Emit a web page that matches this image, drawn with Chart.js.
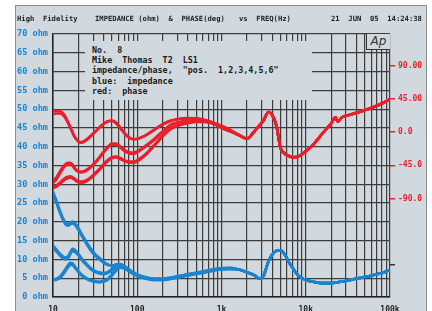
<!DOCTYPE html>
<html>
<head>
<meta charset="utf-8">
<script src="https://cdn.jsdelivr.net/npm/chart.js@4.4.1/dist/chart.umd.min.js"></script>
<style>
  body { margin: 0; background: #fff; }
  #wrap { position: relative; width: 432px; height: 311px; overflow: hidden; background: #fff; }
  #frame { position: absolute; left: 15px; top: 5px; width: 410px; height: 320px; border: 1px solid #8a8f94; background: #d2d9de; }
  #c { position: absolute; left: 0; top: 0; }
  .hdr { position: absolute; top: 15px; font: bold 7.2px/8px "DejaVu Sans Mono", monospace; color: #222; white-space: pre; }
  #note { position: absolute; left: 85px; top: 41px; width: 220px; height: 55px; padding: 4px 0 0 7px; background: #d2d9de;
          font: bold 8.4px/10.2px "DejaVu Sans Mono", monospace; color: #1a1a1a; white-space: pre; }
  #ap { position: absolute; left: 366px; top: 34px; width: 23px; height: 15px; background: #d2d9de;
        border-left: 1px solid #333; border-bottom: 1px solid #333; font: italic 12px/15px "DejaVu Sans", sans-serif; color: #333; text-align: center; }
</style>
</head>
<body>
<div id="wrap">
  <div id="frame"></div>
  <canvas id="c" width="432" height="311"></canvas>
  <div class="hdr" style="left:17px">High  Fidelity</div>
  <div class="hdr" style="left:95px">IMPEDANCE (ohm)  &  PHASE(deg)</div>
  <div class="hdr" style="left:239px">vs  FREQ(Hz)</div>
  <div class="hdr" style="left:331px">21  JUN  05  14:24:38</div>
  <div id="note">No.  8
Mike  Thomas  T2  LS1
impedance/phase,  "pos.  1,2,3,4,5,6"
blue:  impedance
red:  phase</div>
  <div id="ap">Ap</div>
</div>
<script>
// frequenze (Hz)
const freqLow = [10, 11, 12, 13, 14, 15, 16, 17, 18, 20, 22, 25, 28, 32, 36, 40, 45, 50, 56, 63, 71, 80, 90, 100,
  125, 160, 200, 250, 315, 400, 500, 630, 800, 1000, 1250];
const freqHigh = [1600, 2000, 2500, 2800, 3150, 3600, 4000, 4500, 5000, 5600, 6300, 7100, 8000, 9000, 10000,
  12500, 16000, 20000, 22500, 24000, 27000, 31500, 40000, 50000, 63000, 80000, 100000];

// impedenza (ohm), una riga per posizione, parte bassa
const zA1 = [28.0, 25.6, 23.2, 21.2, 19.9, 19.5, 19.8, 20.1, 19.8, 18.4, 16.7, 14.6, 12.9, 11.3, 10.3, 9.4, 8.7, 8.4, 8.7, 8.8, 8.2, 7.3, 6.6, 6.0,
  5.3, 4.9, 4.9, 5.2, 5.6, 6.1, 6.5, 6.9, 7.4, 7.7, 7.8];
const zA2 = [27.4, 25.0, 22.6, 20.7, 19.4, 19.0, 19.3, 19.6, 19.3, 17.9, 16.2, 14.1, 12.4, 10.9, 9.9, 9.1, 8.5, 8.3, 8.6, 8.7, 8.1, 7.2, 6.5, 5.9,
  5.2, 4.8, 4.8, 5.1, 5.5, 6.0, 6.4, 6.8, 7.3, 7.6, 7.7];
const zB1 = [13.8, 12.6, 11.6, 10.9, 10.5, 10.8, 11.9, 12.8, 12.6, 11.5, 10.2, 8.8, 7.7, 6.9, 6.5, 6.4, 6.7, 7.5, 8.4, 8.6, 8.0, 7.1, 6.4, 5.9,
  5.2, 4.8, 4.8, 5.1, 5.5, 6.0, 6.4, 6.8, 7.3, 7.6, 7.7];
const zB2 = [13.2, 12.1, 11.1, 10.4, 10.0, 10.2, 11.3, 12.2, 12.1, 11.1, 9.8, 8.5, 7.4, 6.6, 6.2, 6.1, 6.4, 7.2, 8.1, 8.4, 7.8, 7.0, 6.3, 5.8,
  5.1, 4.7, 4.7, 5.0, 5.4, 5.9, 6.3, 6.7, 7.2, 7.5, 7.6];
const zC1 = [4.7, 4.9, 5.4, 6.3, 7.4, 8.4, 9.1, 9.0, 8.3, 6.9, 5.9, 5.0, 4.5, 4.2, 4.1, 4.3, 4.9, 6.0, 7.4, 8.1, 7.7, 6.9, 6.2, 5.6,
  5.0, 4.6, 4.6, 4.9, 5.3, 5.8, 6.2, 6.6, 7.1, 7.4, 7.5];
const zC2 = [4.4, 4.6, 5.0, 5.8, 6.8, 7.8, 8.5, 8.5, 7.9, 6.6, 5.6, 4.8, 4.3, 4.0, 3.9, 4.1, 4.6, 5.7, 7.0, 7.8, 7.5, 6.8, 6.1, 5.5,
  4.9, 4.5, 4.5, 4.8, 5.2, 5.7, 6.1, 6.5, 7.0, 7.3, 7.4];
// sopra 1.6k le curve coincidono
const zHigh = [7.3, 6.6, 5.7, 4.9, 5.6, 9.4, 11.3, 12.3, 12.4, 11.4, 9.3, 7.5, 5.9, 5.0, 4.5, 4.0, 3.7, 3.7, 3.8, 3.9, 4.1, 4.4, 4.9, 5.3, 5.8, 6.4, 7.2];

// fase (gradi)
const pTop1 = [28, 28.5, 28, 26, 21, 14, 7, 0, -6, -13, -14.5, -11, -6, 0.5, 6.5, 11, 14.5, 15.5, 13, 6, -1.5, -7, -9.5, -9,
  -4.5, 3.5, 10.5, 15.5, 18, 19, 18.5, 16.5, 13, 8.5, 3.5];
const pTop2 = [24, 25, 25, 23.5, 19, 12.5, 6, -0.5, -6.5, -12.5, -13.5, -10, -5, 1, 7, 11.5, 14.5, 15, 12, 5, -2.5, -8, -10, -9.5,
  -5, 3, 10, 15, 17.5, 18.5, 18, 16, 12.5, 8, 3];
const pMid1 = [-66, -61, -54, -47.5, -43.5, -41.5, -41.5, -44, -48, -53, -53.5, -51, -47, -40, -33, -26, -19.5, -15.5, -15.5, -19.5, -24.5, -27.5, -28, -26,
  -18.5, -9, 1, 10, 13.5, 16, 16.5, 15, 12, 7, 2.5];
const pMid2 = [-69, -64, -57, -50, -46, -44, -43.5, -45.5, -49.5, -54, -54.5, -52, -48, -41.5, -34.5, -27.5, -21, -17, -17, -21, -26, -29, -29.5, -27.5,
  -20, -10.5, 0, 9, 13, 15.5, 16, 14.5, 11.5, 6.5, 2];
const pBot1 = [-74, -72, -68.5, -65, -62, -60.5, -60, -61, -63, -66.5, -67, -65, -61, -55, -49, -43, -37.5, -34, -33, -35, -38, -40, -40, -38,
  -30, -17, -5, 5, 9.5, 12.5, 14, 14, 11.5, 6, 1.5];
const pBot2 = [-76, -74, -70.5, -67, -64, -62.5, -61.5, -62.5, -64.5, -68, -68.5, -66.5, -62.5, -56.5, -50.5, -44.5, -39, -35.5, -34.5, -36.5, -39.5, -41.5, -41.5, -39.5,
  -31.5, -18.5, -6, 4, 9, 12, 13.5, 13.5, 11, 5.5, 1];
const pHigh = [-4, -9, 2, 8.5, 15.5, 27, 23, 8, -21, -29, -32.5, -34, -33.5, -30, -26, -16, -1, 11.5, 20, 14, 20, 22.5, 26, 29.5, 33.5, 38.5, 44.5];

// etichette
const freqLabels = { 10: "10", 100: "100", 1000: "1k", 10000: "10k", 100000: "100k" };
const phaseTicks = [-180, -90, -45, 0, 45, 90];

const BLUE = "#1a84cf";
const RED = "#ea1f2b";
const GRID = "#3d3d3d";
const MONO = "'DejaVu Sans Mono', monospace";

const freqAll = freqLow.concat(freqHigh);
const punti = (low, high) => freqAll.map((f, i) => ({ x: f, y: low.concat(high)[i] }));

const linea = (data, color, axis) => ({
  data, yAxisID: axis, borderColor: color, borderWidth: 2.6,
  pointRadius: 0, fill: false, cubicInterpolationMode: "monotone"
});

const datasets = [
  ...[pTop1, pTop2, pMid1, pMid2, pBot1, pBot2].map(p => linea(punti(p, pHigh), RED, "y2")),
  ...[zA1, zA2, zB1, zB2, zC1, zC2].map(z => linea(punti(z, zHigh), BLUE, "y"))
];

// griglia log: 1..9 per decade
const logTicks = [];
for (let d = 10; d < 100000; d *= 10) {
  for (let k = 1; k < 10; k++) logTicks.push({ value: d * k });
}
logTicks.push({ value: 100000 });

new Chart(document.getElementById("c"), {
  type: "line",
  data: { datasets },
  options: {
    responsive: false,
    animation: false,
    layout: { padding: { top: 34, left: 0, right: 0, bottom: 0 } },
    plugins: { legend: { display: false }, tooltip: { enabled: false } },
    scales: {
      x: {
        type: "logarithmic", min: 10, max: 100000,
        afterBuildTicks: s => { s.ticks = logTicks.slice(); },
        afterFit: s => { s.height = 14; },
        ticks: {
          autoSkip: false, maxRotation: 0, padding: 8, color: "#222",
          font: { family: MONO, size: 8, weight: "bold" },
          callback: v => freqLabels[v] || ""
        },
        grid: { color: GRID, lineWidth: 1.2, drawTicks: false },
        border: { color: "#222", width: 1.5 }
      },
      y: {
        min: 0, max: 70,
        afterFit: s => { s.width = 53; },
        ticks: {
          stepSize: 5, padding: 5, color: BLUE,
          font: { family: MONO, size: 8.6, weight: "bold" },
          callback: v => (v < 10 ? " " : "") + v + " ohm"
        },
        grid: { color: GRID, lineWidth: 1.2, drawTicks: false },
        border: { color: "#222", width: 1.5 }
      },
      y2: {
        position: "right", min: -223, max: 132.5,
        afterBuildTicks: s => { s.ticks = phaseTicks.map(v => ({ value: v })); },
        afterFit: s => { s.width = 42; },
        ticks: {
          padding: 3, color: RED,
          font: { family: MONO, size: 8, weight: "bold" },
          callback: v => v === -180 ? "" : (v > 0 ? v.toFixed(2) : v.toFixed(1))
        },
        grid: {
          drawOnChartArea: false, drawTicks: true, tickLength: 5, lineWidth: 1.5,
          color: c => (c.tick && c.tick.value === -180) ? "#333" : RED
        },
        border: { display: false }
      }
    }
  }
});
</script>
</body>
</html>
